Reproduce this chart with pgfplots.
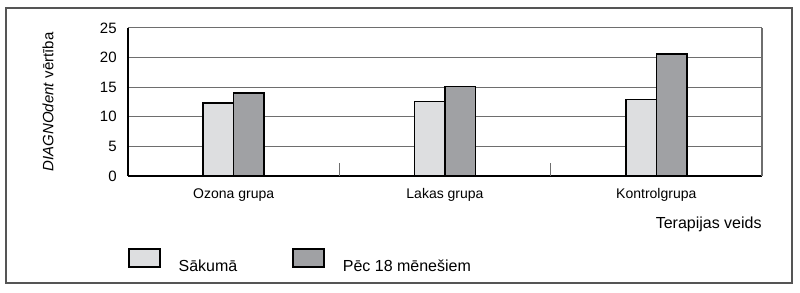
\documentclass[border=0pt]{standalone}
\usepackage{pgfplots}
\pgfplotsset{compat=1.18}
\usepackage{fontspec}
\setmainfont{Liberation Sans}
\definecolor{barlight}{RGB}{221,222,224}
\definecolor{bardark}{RGB}{160,161,164}
\definecolor{gridgray}{RGB}{110,110,110}
\definecolor{framegray}{RGB}{85,85,85}
\begin{document}
\begin{tikzpicture}
\path (-64pt,-58.5pt) rectangle (336pt,88pt);
\draw[framegray, line width=0.75pt] (-61pt,-53.5pt) rectangle (332pt,84pt);
\begin{axis}[
  at={(0pt,0pt)}, anchor=south west,
  scale only axis, width=317pt, height=74pt,
  clip=false,
  xmin=-0.5, xmax=2.5, ymin=0, ymax=25,
  ybar=0pt, bar width=15.3pt,
  xtick={0,1,2},
  xticklabels={Ozona grupa, Lakas grupa, Kontrolgrupa},
  ytick={0,5,10,15,20,25},
  major tick length=0pt,
  extra x ticks={0.5,1.5},
  extra x tick labels={},
  extra x tick style={tick align=inside, major tick length=6.5pt, tick style={gridgray, line width=0.6pt}},
  ymajorgrids,
  grid style={gridgray, line width=0.5pt},
  axis x line*=bottom, axis y line*=left,
  axis line style={black, line width=1.1pt, -},
  /pgf/number format/assume math mode=true,
  ticklabel style={font=\fontsize{7.5}{9}\selectfont},
  xticklabel style={font=\fontsize{7}{9}\selectfont, inner sep=0pt, yshift=-6pt},
  yticklabel style={inner sep=0pt, xshift=-5.5pt},
  legend columns=2,
  legend style={at={(rel axis cs:0,0)}, anchor=north west, draw=none, fill=none,
    inner sep=0pt, outer sep=0pt, yshift=-36pt,
    font=\fontsize{8}{10}\selectfont,
    nodes={inner sep=0pt},
    /tikz/every odd column/.append style={column sep=9pt},
    /tikz/every even column/.append style={column sep=27.5pt}},
  legend image code/.code={\draw[#1, line width=0.8pt] (0pt,0pt) rectangle (15.5pt,9pt);},
]
\addplot[draw=black, line width=0.8pt, fill=barlight] coordinates {(0,12.3) (1,12.6) (2,12.9)};
\addplot[draw=black, line width=0.8pt, fill=bardark] coordinates {(0,14.0) (1,15.1) (2,20.6)};
\legend{Sākumā, Pēc 18 mēnešiem}
\draw[gridgray, line width=0.6pt] (rel axis cs:1,0) -- (rel axis cs:1,1);
\path (rel axis cs:1,0) ++(0pt,-26.5pt) node[anchor=base east, inner sep=0pt, font=\fontsize{8}{10}\selectfont] {Terapijas veids};
\path (rel axis cs:0,0.5) ++(-40pt,0pt) node[rotate=90, anchor=center, inner sep=0pt, font=\fontsize{7.5}{9}\selectfont] {\textit{DIAGNOdent} vērtība};
\end{axis}
\end{tikzpicture}
\end{document}
